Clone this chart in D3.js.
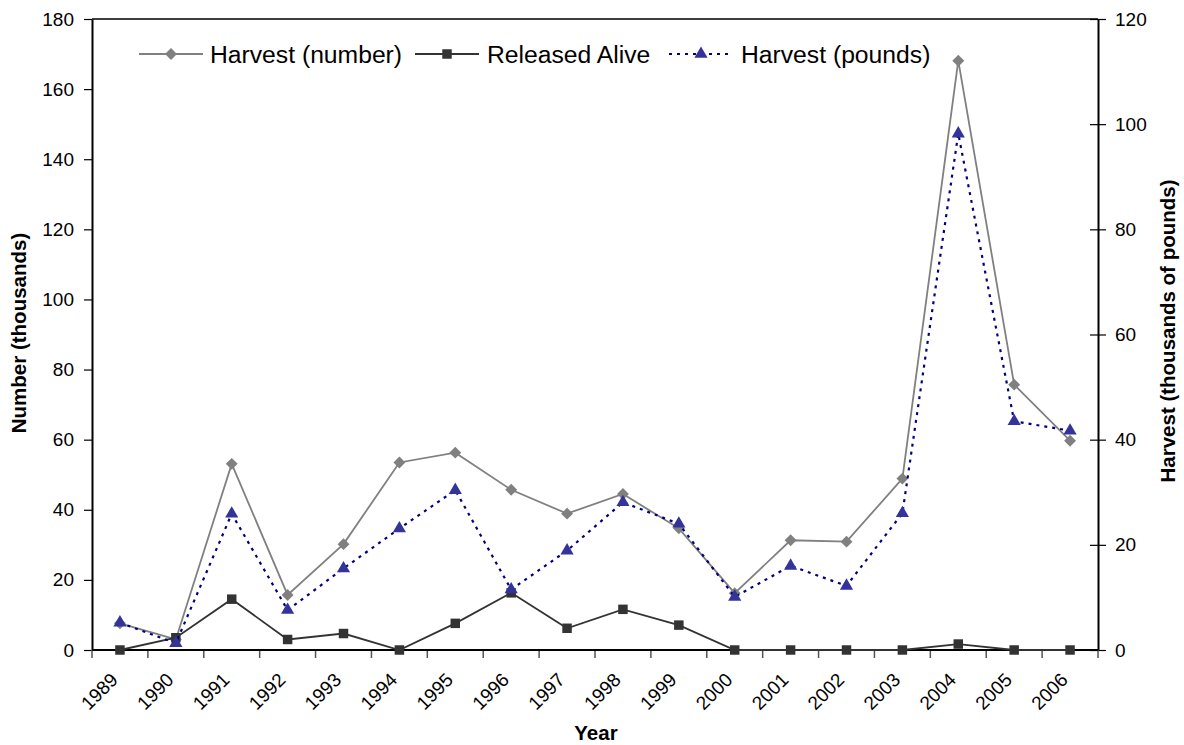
<!DOCTYPE html>
<html lang="en">
<head>
<meta charset="UTF-8">
<title>Harvest and releases</title>
<script src="https://d3js.org/d3.v7.min.js"></script>
<style>
  body { margin: 0; background: #fff; }
  text { font-family: "Liberation Sans", Arial, sans-serif; }
</style>
</head>
<body>
<svg id="main" width="1184" height="745"></svg>
<script>
    const years = ['1989','1990','1991','1992','1993','1994','1995','1996','1997',
                   '1998','1999','2000','2001','2002','2003','2004','2005','2006'];
    // thousands of fish, left axis
    const harvestNumber = [7.6, 3, 53.1, 15.7, 30.2, 53.5, 56.3, 45.7, 38.9,
                           44.5, 34.7, 16.2, 31.3, 30.9, 48.9, 168.1, 75.7, 59.7];
    const releasedAlive = [0, 3.5, 14.5, 3.0, 4.7, 0, 7.6, 16.3, 6.2,
                           11.6, 7.1, 0, 0, 0, 0, 1.7, 0, 0];
    // thousands of pounds, right axis
    const harvestPounds = [5.2, 1.3, 25.9, 7.6, 15.5, 23.1, 30.4, 11.5, 18.9,
                           28.1, 24.0, 10.1, 16.0, 12.2, 26.0, 98.2, 43.5, 41.7];
    const leftTicks = [0, 20, 40, 60, 80, 100, 120, 140, 160, 180];
    const rightTicks = [0, 20, 40, 60, 80, 100, 120];

    const plotLeft = 92, plotRight = 1098, plotTop = 19, plotBottom = 650;
    let svg = d3.select('svg#main');

    let x = d3.scaleBand().domain(years).range([plotLeft, plotRight]);
    let yL = d3.scaleLinear().domain([0, 180]).range([plotBottom, plotTop]);
    let yR = d3.scaleLinear().domain([0, 120]).range([plotBottom, plotTop]);
    const cx = d => x(d) + x.bandwidth() / 2;

    // frame top
    svg.append('line').attr('x1', plotLeft).attr('x2', plotRight).attr('y1', plotTop).attr('y2', plotTop)
        .attr('stroke', '#000').attr('stroke-width', 1.5);

    // left axis
    let gL = svg.append('g').attr('transform', `translate(${plotLeft},0)`)
        .call(d3.axisLeft(yL).tickValues(leftTicks).tickSize(8).tickSizeOuter(0).tickPadding(10));
    // right axis
    let gR = svg.append('g').attr('transform', `translate(${plotRight},0)`)
        .call(d3.axisRight(yR).tickValues(rightTicks).tickSize(8).tickSizeOuter(0).tickPadding(9));
    gR.selectAll('.tick line').attr('x1', -8);
    // bottom axis: ticks between categories
    let gB = svg.append('g').attr('transform', `translate(0,${plotBottom})`);
    gB.selectAll('line.t').data(years.concat(['end']))
        .enter().append('line')
        .attr('x1', (d, i) => plotLeft + i * x.bandwidth())
        .attr('x2', (d, i) => plotLeft + i * x.bandwidth())
        .attr('y1', 0).attr('y2', 8)
        .attr('stroke', '#555').attr('stroke-width', 1.5);
    gB.append('line').attr('x1', plotLeft).attr('x2', plotRight).attr('stroke', '#000').attr('stroke-width', 2);
    gB.selectAll('text.yr').data(years).enter().append('text')
        .attr('class', 'yr')
        .attr('transform', d => `translate(${cx(d) - 1},${31}) rotate(-45)`)
        .attr('text-anchor', 'end')
        .attr('font-size', 19)
        .attr('fill', '#000')
        .text(d => d);

    [gL, gR].forEach(g => {
        g.select('.domain').attr('stroke', '#000').attr('stroke-width', 2);
        g.selectAll('.tick line').attr('stroke', '#000').attr('stroke-width', 1.2);
        g.selectAll('.tick text').attr('font-size', 19).attr('fill', '#000')
            .attr('font-family', '"Liberation Sans", Arial, sans-serif');
    });

    // titles
    svg.append('text').attr('transform', 'translate(26,333) rotate(-90)')
        .attr('text-anchor', 'middle').attr('font-size', 20.5).attr('font-weight', 'bold')
        .text('Number (thousands)');
    svg.append('text').attr('transform', 'translate(1175,331) rotate(-90)')
        .attr('text-anchor', 'middle').attr('font-size', 20.5).attr('font-weight', 'bold')
        .text('Harvest (thousands of pounds)');
    svg.append('text').attr('x', 596).attr('y', 740)
        .attr('text-anchor', 'middle').attr('font-size', 20.5).attr('font-weight', 'bold')
        .text('Year');

    const diamond = d3.symbol().type(d3.symbolDiamond2).size(90);
    const square = d3.symbol().type(d3.symbolSquare).size(90);
    const triangle = d3.symbol().type(d3.symbolTriangle).size(75);

    const series = [
        {name: 'Harvest (number)', values: harvestNumber, y: yL, color: '#808080', width: 1.8,
         dash: null, sym: diamond, fill: '#808080'},
        {name: 'Released Alive', values: releasedAlive, y: yL, color: '#333333', width: 1.8,
         dash: null, sym: square, fill: '#333333'},
        {name: 'Harvest (pounds)', values: harvestPounds, y: yR, color: '#000080', width: 2.2,
         dash: '3,5', sym: triangle, fill: '#333399'}
    ];

    series.forEach(s => {
        let line = d3.line().x((d, i) => cx(years[i])).y(d => s.y(d));
        svg.append('path').datum(s.values)
            .attr('d', line).attr('fill', 'none')
            .attr('stroke', s.color).attr('stroke-width', s.width)
            .attr('stroke-dasharray', s.dash);
        svg.selectAll(null).data(s.values).enter().append('path')
            .attr('d', s.sym)
            .attr('transform', (d, i) => `translate(${cx(years[i])},${s.y(d)})`)
            .attr('fill', s.fill);
    });

    // legend
    const legendPos = [{lx: 139, tx: 210}, {lx: 415, tx: 487}, {lx: 669, tx: 741}];
    series.forEach((s, i) => {
        let g = svg.append('g').attr('transform', `translate(0,54)`);
        g.append('line').attr('x1', legendPos[i].lx).attr('x2', legendPos[i].lx + 64)
            .attr('stroke', s.color).attr('stroke-width', s.width)
            .attr('stroke-dasharray', s.dash);
        g.append('path').attr('d', s.sym)
            .attr('transform', `translate(${legendPos[i].lx + 32},0)`)
            .attr('fill', s.fill);
        g.append('text').attr('x', legendPos[i].tx).attr('y', 9)
            .attr('font-size', 24.7).text(s.name);
    });
</script>
</body>
</html>
